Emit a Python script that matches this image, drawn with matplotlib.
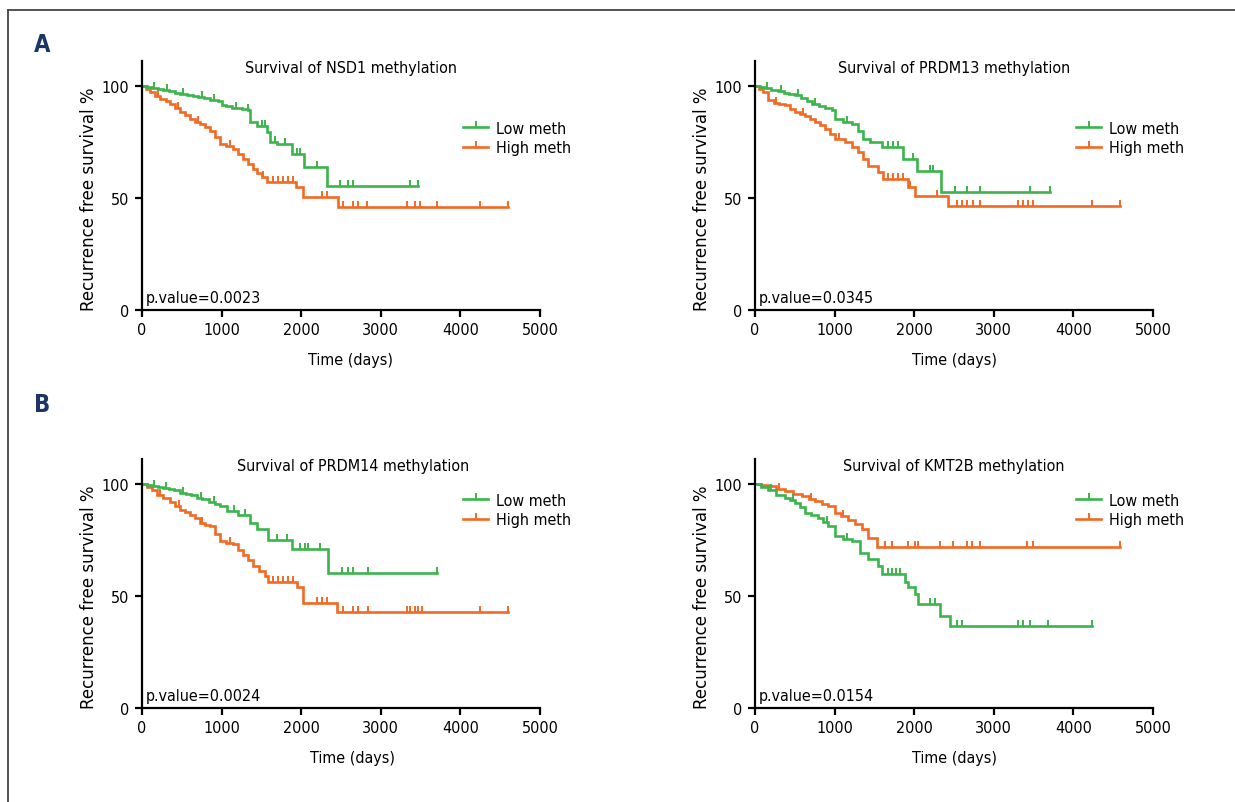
import numpy as np
import matplotlib
matplotlib.use("Agg")
import matplotlib.pyplot as plt
from matplotlib.path import Path
from matplotlib.lines import Line2D

# horizontal text in the reference is squeezed, so use the condensed DejaVu face
plt.rcParams['font.family'] = ['DejaVu Sans']
plt.rcParams['font.stretch'] = 'condensed'

GREEN = "#3cb44b"
ORANGE = "#f26a22"

# ---- data (time in days, survival in %) ----
# A left: NSD1
nsd1_low_t = [0, 60, 130, 200, 270, 340, 420, 480, 560, 640, 700, 780, 860, 960, 1000, 1060, 1130, 1250, 1330, 1360, 1450, 1570, 1610, 1700, 1880, 2040, 2330]
nsd1_low_s = [100, 99.5, 99, 98.6, 98, 97.5, 96.8, 96.3, 95.8, 95.3, 94.8, 94.3, 93.8, 93.3, 91.5, 90.8, 90.2, 89.6, 89, 84, 82, 79.5, 75, 74, 69.6, 63.8, 55.4]
nsd1_low_c = [150, 320, 520, 760, 900, 1180, 1330, 1507, 1545, 1670, 1796, 1947, 1985, 2198, 2487, 2588, 2650, 3366, 3467]
nsd1_high_t = [0, 50, 100, 160, 230, 300, 350, 420, 480, 540, 600, 660, 730, 790, 850, 920, 980, 1060, 1140, 1200, 1270, 1330, 1390, 1450, 1510, 1570, 1940, 2020, 2460]
nsd1_high_s = [100, 98.5, 97, 95.5, 94, 93, 92, 90, 88.4, 87, 85.3, 84, 83, 81.5, 80, 77, 74, 73, 71.9, 69.5, 67.4, 65, 62.9, 61, 59.5, 57, 55, 50.4, 46]
nsd1_high_c = [200, 450, 700, 1100, 1520, 1645, 1708, 1771, 1834, 1897, 2261, 2324, 2525, 2650, 2713, 2826, 3328, 3429, 3492, 3705, 4245, 4597]

# A right: PRDM13
prdm13_low_t = [0, 60, 130, 200, 290, 360, 430, 500, 580, 650, 720, 800, 880, 970, 1005, 1100, 1220, 1300, 1356, 1450, 1595, 1860, 2040, 2340]
prdm13_low_s = [100, 99.4, 98.8, 98.2, 97.5, 96.8, 96.2, 95.7, 94.5, 93.3, 92, 91, 90, 89, 85, 84, 83, 80, 76.3, 75, 72.8, 67.5, 61.8, 52.7]
prdm13_low_c = [150, 330, 540, 760, 1150, 1670, 1733, 1796, 1984, 2198, 2236, 2512, 2663, 2826, 3454, 3705]
prdm13_high_t = [0, 50, 100, 163, 240, 300, 377, 440, 502, 560, 628, 690, 754, 820, 879, 940, 1005, 1130, 1220, 1294, 1360, 1419, 1545, 1608, 1922, 2010, 2430]
prdm13_high_s = [100, 98.7, 97, 93.4, 92.5, 91.8, 91.2, 89.8, 88.4, 87.5, 86.7, 85.3, 83.9, 82.3, 80.8, 78.5, 76.3, 75, 72.8, 70.5, 67.5, 64.3, 61.6, 58.5, 55, 51, 46.5]
prdm13_high_c = [260, 600, 1050, 1670, 1733, 1796, 1859, 1947, 2286, 2537, 2600, 2663, 2738, 2826, 3303, 3366, 3429, 3492, 4233, 4584]

# B left: PRDM14
prdm14_low_t = [0, 60, 130, 200, 264, 340, 400, 477, 550, 620, 690, 760, 840, 920, 980, 1067, 1200, 1356, 1450, 1583, 1884, 2336]
prdm14_low_s = [100, 99.5, 99, 98.6, 98.2, 97.6, 97, 96, 95.5, 94.8, 93.8, 93, 92, 91, 90, 87.7, 86, 82.6, 80, 75, 70.7, 60.4]
prdm14_low_c = [150, 300, 520, 740, 900, 1150, 1300, 1696, 1821, 1985, 2047, 2085, 2236, 2512, 2588, 2650, 2838, 3705]
prdm14_high_t = [0, 60, 120, 188, 260, 352, 420, 477, 540, 603, 660, 728, 790, 854, 920, 980, 1060, 1143, 1200, 1269, 1330, 1394, 1470, 1545, 1583, 1947, 2022, 2449]
prdm14_high_s = [100, 98.5, 97, 95, 93.5, 92, 90, 88.4, 87.3, 86.2, 84.5, 82.6, 81.8, 81, 77.5, 74.4, 73.6, 72.9, 70.5, 68.4, 66, 63.3, 61, 58.8, 56, 53.8, 47, 43]
prdm14_high_c = [220, 470, 760, 1100, 1645, 1708, 1771, 1834, 1897, 2198, 2261, 2324, 2525, 2650, 2713, 2838, 3328, 3366, 3429, 3467, 3517, 4245, 4597]

# B right: KMT2B
kmt2b_low_t = [0, 80, 163, 270, 377, 440, 502, 560, 628, 700, 791, 850, 917, 1005, 1100, 1218, 1319, 1419, 1545, 1595, 1884, 1922, 2010, 2047, 2324, 2449]
kmt2b_low_s = [100, 98.5, 97.3, 95, 93.8, 92.7, 91.5, 89.5, 87, 86, 84.9, 83, 81, 76.6, 75.5, 74.4, 69.3, 66.2, 63.3, 59.6, 56, 53.8, 50.7, 46.2, 41, 36.6]
kmt2b_low_c = [200, 480, 900, 1150, 1670, 1720, 1770, 1820, 2198, 2261, 2537, 2600, 3303, 3366, 3454, 3680, 4233]
kmt2b_high_t = [0, 80, 163, 260, 377, 480, 590, 680, 754, 840, 917, 1005, 1080, 1168, 1250, 1344, 1419, 1532]
kmt2b_high_s = [100, 99.6, 98.8, 97.6, 96.6, 95.5, 94.4, 93.2, 92.1, 91, 90, 87, 85.5, 84, 82, 79.6, 76, 71.6]
kmt2b_high_c = [300, 700, 1100, 1633, 1721, 1922, 2010, 2047, 2324, 2487, 2663, 2725, 2826, 3416, 3492, 4584]

titles = ["Survival of NSD1 methylation", "Survival of PRDM13 methylation",
          "Survival of PRDM14 methylation", "Survival of KMT2B methylation"]
pvalues = ["p.value=0.0023", "p.value=0.0345", "p.value=0.0024", "p.value=0.0154"]

panels = [
    (nsd1_low_t, nsd1_low_s, nsd1_low_c, nsd1_high_t, nsd1_high_s, nsd1_high_c),
    (prdm13_low_t, prdm13_low_s, prdm13_low_c, prdm13_high_t, prdm13_high_s, prdm13_high_c),
    (prdm14_low_t, prdm14_low_s, prdm14_low_c, prdm14_high_t, prdm14_high_s, prdm14_high_c),
    (kmt2b_low_t, kmt2b_low_s, kmt2b_low_c, kmt2b_high_t, kmt2b_high_s, kmt2b_high_c),
]

# upward tick used for censored cases
tick = Path([(0, 0), (0, 1)])


def draw_km(ax, t, s, c, color):
    t = np.array(t, dtype=float)
    s = np.array(s, dtype=float)
    c = np.array(c, dtype=float)
    end = max(t[-1], c.max())
    tt = np.append(t, end)
    ss = np.append(s, s[-1])
    ax.plot(tt, ss, drawstyle="steps-post", color=color, lw=1.9, solid_joinstyle="miter")
    idx = np.searchsorted(t, c, side="right") - 1
    ax.plot(c, s[idx], ls="none", marker=tick, ms=8, mew=1.4, color=color)


W, H = 1235, 803
fig = plt.figure(figsize=(W / 100, H / 100), dpi=100)

lefts = [142, 755, 142, 755]
zeros = [311, 311, 709, 709]
title_x = [0.525, 0.50, 0.53, 0.50]
legend_y = [0.785, 0.785, 0.89, 0.89]
FS = 11.5

for i, (lt, ls, lc, ht, hs, hc) in enumerate(panels):
    ax = fig.add_axes([lefts[i] / W, (H - zeros[i]) / H, 398 / W, 249 / H])
    draw_km(ax, ht, hs, hc, ORANGE)
    draw_km(ax, lt, ls, lc, GREEN)
    ax.set_xlim(0, 5000)
    ax.set_ylim(0, 111)
    ax.set_xticks([0, 1000, 2000, 3000, 4000, 5000])
    ax.set_yticks([0, 50, 100])
    for side in ["top", "right"]:
        ax.spines[side].set_visible(False)
    for side in ["left", "bottom"]:
        ax.spines[side].set_linewidth(1.6)
    ax.tick_params(direction="out", length=5, width=1.6, labelsize=FS, pad=4)
    ax.set_xlabel("Time (days)", fontsize=FS)
    ax.xaxis.set_label_coords(title_x[i], -0.17)
    ax.set_ylabel("Recurrence free survival %", fontsize=12, fontstretch="normal")
    ax.yaxis.set_label_coords(-0.11, 0.45)
    ax.text(title_x[i], 0.975, titles[i], transform=ax.transAxes, ha="center", va="center", fontsize=FS)
    ax.text(0.01, 0.02, pvalues[i], transform=ax.transAxes, ha="left", va="bottom", fontsize=FS)
    handles = [Line2D([], [], color=GREEN, lw=1.9, marker=tick, ms=8, mew=1.4),
               Line2D([], [], color=ORANGE, lw=1.9, marker=tick, ms=8, mew=1.4)]
    ax.legend(handles, ["Low meth", "High meth"], loc="upper left", bbox_to_anchor=(0.79, legend_y[i]),
              frameon=False, fontsize=FS, handlelength=1.6, handletextpad=0.45, labelspacing=0.28,
              numpoints=1, borderaxespad=0)

fig.text(42 / W, 1 - 45 / H, "A", fontsize=17, fontweight="bold", color="#1a3566", ha="center", va="center")
fig.text(42 / W, 1 - 405 / H, "B", fontsize=17, fontweight="bold", color="#1a3566", ha="center", va="center")

# thin frame on top and left of the figure
fig.add_artist(Line2D([8 / W, 1], [1 - 11 / H, 1 - 11 / H], color="#444444", lw=1.3))
fig.add_artist(Line2D([8 / W, 8 / W], [0, 1 - 11 / H], color="#444444", lw=1.3))

fig.savefig("out.png", dpi=100)
